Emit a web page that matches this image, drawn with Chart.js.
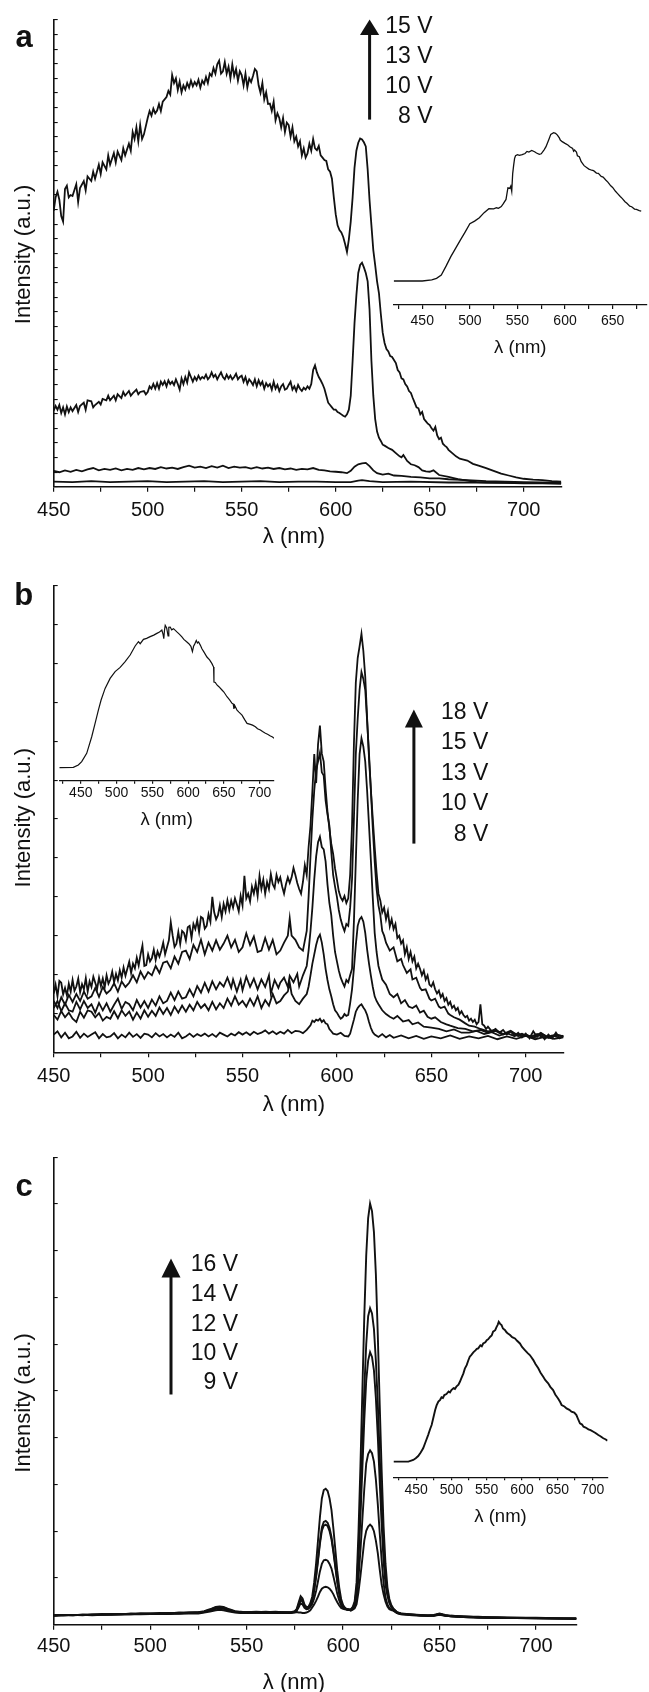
<!DOCTYPE html>
<html><head><meta charset="utf-8">
<script src="https://cdn.jsdelivr.net/npm/chart.js@4.4.1/dist/chart.umd.min.js"></script>
<style>
html,body{margin:0;padding:0;background:#fff;}
body{width:649px;height:1692px;position:relative;overflow:hidden;font-family:"Liberation Sans",Arial,sans-serif;}
canvas{position:absolute;}
svg{position:absolute;left:0;top:0;}
</style></head>
<body>
<canvas id="ca" width="649" height="560" style="left:0;top:0"></canvas>
<canvas id="cb" width="649" height="560" style="left:0;top:560px"></canvas>
<canvas id="cc" width="649" height="575" style="left:0;top:1120px"></canvas>
<canvas id="ia" width="269" height="260" style="left:380px;top:110px"></canvas>
<canvas id="ib" width="250" height="250" style="left:40px;top:595px"></canvas>
<canvas id="ic" width="269" height="250" style="left:380px;top:1290px"></canvas>
<svg width="649" height="1692" id="ov">
 <g font-family="Liberation Sans, Arial, sans-serif" fill="#111">
  <text x="24.2" y="47.3" font-size="31" font-weight="bold" text-anchor="middle">a</text>
  <text x="23.7" y="605" font-size="31" font-weight="bold" text-anchor="middle">b</text>
  <text x="24" y="1196" font-size="31" font-weight="bold" text-anchor="middle">c</text>
  <g font-size="23" text-anchor="end">
   <text x="432.5" y="33.2">15 V</text><text x="432.5" y="63.2">13 V</text><text x="432.5" y="93">10 V</text><text x="432.5" y="122.8">8 V</text>
   <text x="488.4" y="718.9">18 V</text><text x="488.4" y="749.2">15 V</text><text x="488.4" y="779.6">13 V</text><text x="488.4" y="810">10 V</text><text x="488.4" y="841.1">8 V</text>
   <text x="238" y="1271.2">16 V</text><text x="238" y="1300.7">14 V</text><text x="238" y="1330.9">12 V</text><text x="238" y="1360.4">10 V</text><text x="238" y="1389.4">9 V</text>
  </g>
  <g font-size="22" text-anchor="middle" dominant-baseline="central">
   <text x="294" y="535.7">λ (nm)</text>
   <text x="294" y="1103">λ (nm)</text>
   <text x="294" y="1681">λ (nm)</text>
   <text transform="translate(22.8,254.5) rotate(-90)">Intensity (a.u.)</text>
   <text transform="translate(22.8,817.7) rotate(-90)">Intensity (a.u.)</text>
   <text transform="translate(22.8,1403) rotate(-90)">Intensity (a.u.)</text>
  </g>
 </g>
 <g stroke="#111" stroke-width="3" fill="#111">
  <line x1="369.6" y1="119.6" x2="369.6" y2="33"/><polygon stroke="none" points="369.6,19.6 360,35 379.2,35"/>
  <line x1="413.9" y1="843.6" x2="413.9" y2="726"/><polygon stroke="none" points="413.9,709.6 404.9,727.5 422.9,727.5"/>
  <line x1="171" y1="1394.5" x2="171" y2="1276"/><polygon stroke="none" points="171,1258.6 161.5,1277.4 180.5,1277.4"/>
 </g>
</svg>
<script>
// ---------- DATA ----------
const mainXTicks = [450,475,500,525,550,575,600,625,650,675,700];
const insetATicks = [425,450,475,500,525,550,575,600,625,650,675];
const insetBTicks = [425,450,475,500,525,550,575,600,625,650,675,700];
const insetCTicks = [425,450,475,500,525,550,575,600,625,650,675,700];

// Panel a (main), intensity 0-100
const a15 = [[450,59.1],[451,62.0],[452,63.2],[453,61.5],[454,58.0],[455,56.8],[456,63.8],[457,64.5],[458,62.0],[459,62.5],[460,62.3],[462,64.8],[463,61.0],[464,64.0],[466,65.5],[467,63.5],[468,66.5],[470,65.5],[471,67.5],[472,66.0],[474,69.0],[475,67.0],[476,69.5],[478,68.0],[479,71.0],[480,69.0],[482,71.5],[483,69.5],[484,71.8],[486,70.0],[487,72.5],[488,71.0],[490,73.5],[491,72.0],[492,76.0],[493,74.5],[494,77.0],[495,74.0],[496,77.5],[497,74.5],[498,75.5],[500,79.0],[501,80.5],[502,79.5],[503,81.0],[504,80.0],[505,80.6],[506,82.0],[507,80.5],[508,82.5],[510,83.5],[511,84.8],[512,84.0],[513,88.2],[514,86.5],[515,87.5],[516,85.0],[517,86.8],[518,84.5],[519,86.0],[520,85.1],[521,86.5],[522,85.5],[523,87.0],[524,85.8],[525,86.7],[526,86.0],[527,87.2],[528,85.5],[529,87.0],[530,86.3],[531,87.8],[532,86.5],[533,88.5],[534,88.0],[535,89.7],[536,88.5],[537,90.5],[538,91.3],[539,88.5],[540,89.0],[541,91.0],[542,88.5],[543,90.0],[544,87.5],[545,90.5],[546,88.0],[547,89.5],[548,87.0],[549,89.0],[550,88.2],[551,86.0],[552,88.5],[553,85.5],[554,87.5],[555,86.7],[556,88.0],[557,89.5],[558,89.0],[559,86.0],[560,84.4],[561,86.5],[562,83.0],[563,84.5],[564,82.0],[565,82.1],[566,80.5],[567,82.5],[568,78.5],[569,80.0],[570,79.0],[571,77.0],[572,79.0],[573,76.0],[574,78.0],[575,77.5],[576,75.0],[577,77.0],[578,74.0],[579,75.0],[580,72.9],[581,74.0],[582,71.0],[583,72.5],[584,70.5],[585,71.4],[586,73.5],[587,72.0],[588,74.5],[589,72.5],[590,72.1],[591,73.0],[592,71.0],[593,70.5],[594,70.0],[595,69.8],[596,68.0],[597,67.5],[598,66.0],[599,62.0],[600,58.4],[601,56.0],[602,55.0],[603,54.5],[604,53.5],[605,52.0],[606,50.3],[607,53.0],[608,56.8],[609,62.0],[610,68.3],[611,72.0],[612,73.7],[613,74.6],[614,74.4],[615,73.8],[616,72.9],[617,68.0],[618,61.4],[619,56.0],[620,50.7],[621,47.5],[622,44.0],[623,41.5],[624,37.0],[625,33.0],[626,30.8],[627,29.5],[628,29.0],[629,28.0],[630,27.8],[632,26.5],[633,25.0],[634,24.5],[635,23.2],[636,23.0],[637,22.0],[638,21.5],[639,20.5],[640,20.1],[641,19.0],[642,18.0],[643,17.0],[644,16.8],[645,15.5],[646,16.0],[647,14.5],[648,14.0],[649,13.5],[650,13.2],[651,12.5],[652,12.0],[653,12.8],[654,11.0],[655,10.2],[656,10.5],[657,9.2],[658,8.8],[659,8.5],[660,7.9],[662,7.2],[664,6.5],[666,6.0],[668,5.8],[670,5.6],[673,4.9],[676,4.5],[680,4.0],[684,3.4],[688,2.8],[692,2.4],[696,2.0],[700,1.7],[705,1.5],[710,1.4],[715,1.2],[720,1.1]];
const a13 = [[450,16.3],[451,17.3],[452,16.5],[453,17.5],[454,15.8],[455,17.0],[456,15.5],[457,17.2],[458,16.0],[459,17.0],[460,16.2],[462,17.5],[463,16.0],[464,17.3],[466,18.0],[467,16.5],[468,18.5],[470,18.3],[471,17.0],[472,17.5],[474,18.2],[475,17.6],[476,18.8],[478,18.5],[479,19.5],[480,18.5],[482,19.5],[483,18.5],[484,19.8],[486,19.0],[487,20.3],[488,19.5],[490,20.5],[491,19.5],[492,20.0],[494,20.8],[495,19.8],[496,20.3],[498,20.5],[499,19.8],[500,20.3],[501,21.5],[502,21.0],[503,22.0],[504,21.0],[505,22.2],[506,21.0],[507,22.5],[508,21.8],[509,22.6],[510,21.5],[511,22.8],[512,22.0],[513,22.5],[514,21.8],[515,23.0],[516,22.0],[517,20.8],[518,23.2],[519,22.0],[520,23.5],[521,22.3],[522,24.5],[523,23.5],[524,22.5],[525,23.5],[526,22.8],[527,23.8],[528,23.0],[529,23.5],[530,23.2],[531,24.0],[532,23.0],[533,23.5],[534,24.5],[535,23.5],[536,24.0],[537,23.0],[538,23.8],[539,24.5],[540,23.5],[541,23.0],[542,24.0],[543,23.2],[544,23.8],[545,23.0],[546,23.5],[547,24.2],[548,23.0],[549,23.5],[550,23.8],[551,22.5],[552,23.5],[553,22.0],[554,23.0],[555,22.5],[556,21.8],[557,23.0],[558,21.5],[559,22.8],[560,21.8],[561,22.5],[562,21.0],[563,22.2],[564,21.5],[565,22.0],[566,20.8],[567,22.5],[568,21.0],[569,21.8],[570,20.5],[571,21.5],[572,22.0],[573,20.8],[574,21.0],[575,21.8],[576,22.5],[577,20.8],[578,21.5],[579,20.5],[580,21.8],[581,21.0],[582,20.5],[583,21.2],[584,20.8],[585,21.5],[586,21.0],[587,22.0],[588,25.0],[589,26.0],[590,24.5],[591,23.5],[592,22.8],[593,22.0],[594,21.0],[595,19.5],[596,18.0],[597,17.5],[598,17.0],[599,16.5],[600,16.5],[601,16.0],[602,15.8],[603,15.5],[604,15.2],[605,15.0],[606,15.5],[607,16.5],[608,19.5],[609,27.0],[610,35.0],[611,41.0],[612,45.8],[613,47.5],[614,48.0],[615,47.0],[616,45.8],[617,44.0],[618,38.0],[619,27.0],[620,19.5],[621,14.5],[622,11.8],[623,10.5],[624,9.8],[625,9.0],[626,8.8],[628,8.3],[630,7.9],[632,7.2],[634,6.5],[635,6.3],[636,6.8],[638,5.5],[640,4.8],[642,4.6],[644,4.2],[646,3.5],[648,3.3],[650,3.2],[652,3.5],[655,2.5],[660,2.1],[665,1.6],[670,1.3],[675,1.0],[680,0.9],[690,0.8],[700,0.7],[710,0.7],[720,0.6]];
const a10 = [[450,3.4],[453,3.1],[456,3.5],[459,3.2],[462,3.6],[465,3.3],[468,3.7],[471,4.0],[474,3.5],[477,3.8],[480,3.6],[483,3.9],[486,3.5],[489,3.8],[492,3.6],[495,4.0],[498,3.7],[501,4.0],[504,3.8],[507,4.2],[510,3.9],[513,4.1],[516,3.8],[519,4.2],[522,4.5],[525,4.1],[528,4.3],[531,4.0],[534,4.4],[537,4.1],[540,4.5],[543,4.0],[546,4.3],[549,4.1],[552,4.2],[555,3.9],[558,4.2],[561,3.9],[564,4.1],[567,3.8],[570,4.0],[573,3.7],[576,3.9],[579,3.6],[582,3.8],[585,3.7],[588,4.0],[591,3.6],[594,3.5],[597,3.3],[600,3.2],[603,3.1],[606,2.9],[608,3.4],[610,4.3],[612,4.8],[614,5.0],[616,5.1],[618,4.4],[620,3.5],[622,2.9],[625,2.6],[628,2.8],[631,2.4],[635,2.3],[640,2.1],[645,2.0],[650,1.8],[655,1.8],[660,1.6],[670,1.4],[680,1.2],[690,1.1],[700,1.0],[710,0.9],[720,0.8]];
const a8 = [[450,1.1],[460,1.0],[470,1.2],[480,1.0],[490,1.1],[500,1.2],[510,1.0],[520,1.1],[530,1.2],[540,1.0],[550,1.1],[560,1.2],[570,1.0],[580,1.1],[590,1.1],[600,1.0],[608,1.0],[612,1.3],[614,1.4],[618,1.2],[625,1.0],[640,1.1],[660,0.9],[680,0.9],[700,0.8],[720,0.8]];
const aInset = [[420,0],[450,0],[460,0.7],[465,1.8],[470,4.0],[475,10],[480,16.4],[485,22],[490,27.6],[495,33],[500,38.6],[505,40.4],[510,42.7],[515,46.1],[520,48.8],[525,48.6],[528,49.4],[530,49.0],[533,50.2],[535,52.0],[538,55],[540,62.9],[542,62.5],[543,64.0],[544,60.5],[545,72.4],[546,78],[547,82.7],[548,84.5],[550,85.2],[552,84.7],[555,85.2],[558,86.0],[560,87.4],[562,87.0],[565,88.1],[568,87.2],[570,86.3],[573,85.4],[575,85.8],[578,88.5],[580,90.6],[583,95.5],[585,98.9],[588,100],[590,99.6],[592,98.4],[594,96.5],[595,95.1],[597,94.0],[600,92.8],[603,91.7],[605,90.6],[608,89.4],[609,87.5],[610,88.3],[612,87.0],[613,84.5],[615,83.8],[617,80.5],[620,77.8],[623,76.4],[625,75.5],[628,74.7],[630,74.4],[633,72.8],[635,72.6],[638,70.5],[640,70.1],[643,68.0],[645,66.7],[648,64.2],[650,63.1],[653,60.5],[655,59.1],[658,57.0],[660,55.7],[663,53.5],[665,52.4],[668,50.5],[670,50.1],[673,48.5],[675,48.3],[678,47.5],[680,47.2]];

// Panel b (main), intensity 0-100
const b18 = [[450,12.6],[451,14.5],[452,12.0],[453,15.3],[454,14.9],[455,12.4],[456,13.8],[457,12.2],[458,14.7],[459,13.0],[460,15.5],[461,13.2],[462,14.1],[463,15.8],[464,12.9],[465,14.6],[466,13.5],[467,15.9],[468,13.0],[469,15.2],[470,14.0],[471,16.2],[472,14.9],[473,13.6],[474,16.0],[475,14.2],[476,15.8],[477,13.9],[478,16.5],[479,14.7],[480,15.6],[481,17.3],[482,15.0],[483,16.8],[484,15.4],[485,17.6],[486,16.0],[487,18.2],[488,16.4],[489,17.9],[490,19.4],[491,17.0],[492,19.0],[493,18.0],[494,20.3],[495,18.6],[496,21.0],[497,22.9],[498,18.5],[499,18.7],[500,21.0],[501,19.5],[502,20.2],[503,22.0],[504,19.8],[505,21.6],[506,20.5],[507,21.8],[508,23.5],[509,21.0],[510,22.5],[511,24.0],[512,27.9],[513,25.0],[514,22.6],[515,23.3],[516,25.8],[517,23.2],[518,26.0],[519,25.6],[520,24.0],[521,26.8],[522,27.1],[523,24.5],[524,27.5],[525,26.4],[526,28.3],[527,25.8],[528,29.0],[529,28.7],[530,26.5],[531,27.1],[532,29.6],[533,28.0],[534,33.3],[535,30.0],[536,28.5],[537,29.4],[538,31.5],[539,29.0],[540,31.8],[541,30.2],[542,32.6],[543,30.5],[544,32.5],[545,31.0],[546,33.0],[547,31.7],[548,30.2],[549,33.5],[550,31.5],[551,37.8],[552,33.0],[553,34.0],[554,32.3],[555,35.5],[556,34.0],[557,36.2],[558,33.5],[559,37.8],[560,35.0],[561,37.0],[562,34.0],[563,36.5],[564,35.0],[565,38.2],[566,36.0],[567,35.2],[568,38.0],[569,36.5],[570,37.5],[571,35.5],[572,34.0],[573,36.0],[574,37.5],[575,36.3],[576,37.5],[577,39.5],[578,38.0],[579,36.3],[580,35.0],[581,34.0],[582,36.5],[583,40.1],[584,38.0],[585,44.0],[586,48.6],[587,56.0],[588,63.9],[589,57.7],[590,66.0],[591,70.0],[592,64.0],[593,62.3],[594,56.5],[595,51.6],[596,48.0],[597,44.7],[598,42.5],[599,39.4],[600,37.0],[601,34.5],[602,33.2],[603,32.5],[604,33.5],[605,32.0],[606,33.0],[607,38.0],[608,48.6],[609,66.0],[610,79.2],[611,84.5],[612,87.0],[613,89.7],[614,86.0],[615,80.5],[616,71.5],[617,63.0],[618,56.2],[619,50.0],[620,44.0],[621,38.5],[622,34.0],[623,32.5],[624,30.0],[625,31.0],[626,28.5],[627,30.2],[628,27.0],[629,28.5],[630,26.4],[631,27.5],[632,24.5],[633,25.0],[634,23.3],[635,24.0],[636,21.0],[637,22.5],[638,20.0],[639,21.5],[640,19.5],[641,20.5],[642,18.0],[643,19.0],[644,17.9],[645,16.5],[646,17.5],[647,15.6],[648,16.5],[649,14.5],[650,14.1],[651,15.0],[652,13.5],[653,12.6],[654,13.2],[655,11.8],[656,12.5],[657,11.0],[658,11.6],[659,10.2],[660,10.8],[661,9.5],[662,10.0],[663,9.0],[664,9.5],[665,8.2],[666,8.8],[667,8.0],[668,7.5],[669,7.8],[670,6.8],[671,7.2],[672,6.5],[673,7.0],[674,6.0],[675,6.5],[676,10.3],[677,6.0],[678,5.7],[679,5.0],[680,5.5],[682,4.5],[684,5.0],[686,4.2],[688,4.8],[690,3.8],[692,4.5],[694,3.5],[696,4.2],[698,3.2],[700,4.0],[702,3.0],[704,4.5],[706,3.3],[708,4.0],[710,2.8],[712,3.8],[714,3.0],[716,4.2],[718,3.0],[720,3.6]];
const b15 = [[450,11.0],[452,9.5],[454,11.8],[456,10.2],[458,12.3],[460,10.8],[462,12.5],[464,11.0],[466,13.0],[468,11.5],[470,12.0],[472,13.8],[474,11.9],[476,14.0],[478,12.6],[480,13.3],[482,14.8],[484,13.0],[486,15.2],[488,14.0],[490,14.9],[492,16.5],[494,15.0],[496,17.3],[498,15.8],[500,17.2],[502,16.5],[504,18.5],[506,17.0],[508,19.2],[510,19.5],[512,18.0],[514,20.5],[516,19.0],[518,21.5],[520,21.8],[522,20.0],[524,23.0],[526,21.5],[528,24.1],[530,21.0],[532,23.5],[534,21.8],[536,24.0],[538,22.0],[540,23.3],[542,25.0],[544,22.5],[546,24.1],[548,21.5],[550,22.5],[552,25.5],[554,23.0],[556,24.8],[558,21.5],[560,21.8],[562,24.5],[564,22.0],[566,24.1],[568,21.0],[570,21.8],[572,23.5],[574,25.0],[575,28.7],[576,25.0],[578,24.1],[580,22.5],[582,21.8],[584,26.0],[585,33.3],[586,42.0],[587,50.0],[588,56.2],[589,60.5],[590,62.3],[591,64.2],[592,60.0],[593,59.3],[594,54.0],[595,51.0],[596,48.6],[597,43.0],[598,38.0],[599,35.5],[600,33.3],[601,30.5],[602,28.5],[603,27.1],[604,26.0],[605,27.5],[606,27.1],[607,31.0],[608,37.1],[609,50.0],[610,63.9],[611,71.5],[612,77.7],[613,81.5],[614,80.0],[615,77.7],[616,71.0],[617,63.9],[618,56.0],[619,48.0],[620,40.9],[621,35.0],[622,31.5],[623,29.4],[624,26.0],[625,25.0],[626,23.5],[628,21.8],[630,22.5],[632,19.5],[634,20.0],[635,18.7],[637,17.0],[639,17.8],[640,15.6],[642,16.0],[644,13.8],[645,13.3],[647,13.5],[649,11.5],[650,11.1],[652,11.5],[654,9.8],[655,9.5],[657,9.8],[659,8.3],[660,8.0],[662,7.5],[665,7.0],[668,6.2],[670,5.7],[673,5.5],[676,5.0],[680,4.5],[684,4.8],[688,3.9],[692,4.6],[696,3.6],[700,3.8],[704,3.2],[708,4.2],[712,3.1],[716,3.8],[720,3.4]];
const b13 = [[450,9.5],[452,11.0],[454,8.8],[456,10.5],[458,9.0],[460,8.7],[462,10.8],[464,9.2],[466,11.0],[468,9.5],[470,10.3],[472,8.5],[474,10.6],[476,9.0],[478,10.5],[480,8.7],[482,10.2],[484,11.5],[486,9.3],[488,10.8],[490,10.3],[492,9.0],[494,11.2],[496,9.6],[498,11.0],[500,9.5],[502,11.3],[504,10.0],[506,12.0],[508,10.5],[510,11.0],[512,12.8],[514,11.2],[516,13.0],[518,11.5],[520,11.8],[522,13.5],[524,12.0],[526,14.2],[528,12.8],[530,14.9],[532,13.0],[534,15.2],[536,13.5],[538,15.0],[540,14.1],[542,16.0],[544,13.8],[545,15.6],[547,13.0],[549,15.5],[550,13.3],[552,16.2],[554,14.0],[556,15.8],[558,13.5],[560,15.6],[562,14.0],[564,16.5],[565,12.6],[567,15.5],[569,13.8],[570,14.9],[572,16.0],[574,14.0],[575,16.4],[577,15.0],[579,16.8],[580,14.1],[582,16.5],[584,18.5],[585,21.8],[586,26.0],[587,31.0],[588,37.1],[589,42.0],[590,45.0],[591,46.2],[592,44.0],[593,43.5],[594,40.9],[595,36.0],[596,32.0],[597,29.4],[598,25.0],[599,21.5],[600,19.5],[601,17.5],[602,16.0],[603,15.0],[604,14.1],[605,15.5],[606,15.0],[607,16.5],[608,17.9],[609,28.0],[610,40.9],[611,54.0],[612,63.9],[613,67.3],[614,65.5],[615,62.3],[616,56.0],[617,48.6],[618,41.0],[619,33.0],[620,25.6],[621,21.5],[622,18.5],[623,17.0],[624,15.6],[626,14.5],[628,12.5],[630,11.8],[632,12.5],[634,10.5],[636,11.2],[638,9.8],[640,9.5],[642,10.0],[644,8.5],[646,8.9],[648,7.6],[650,7.2],[652,7.5],[655,6.5],[658,6.0],[660,5.7],[664,5.2],[668,5.0],[672,4.5],[676,4.8],[680,4.2],[684,4.6],[688,3.8],[692,4.4],[696,3.5],[700,3.8],[704,3.0],[708,4.0],[712,3.2],[716,3.7],[720,3.4]];
const b10 = [[450,8.0],[452,7.0],[454,8.8],[456,7.5],[458,8.5],[460,7.2],[462,6.5],[464,8.7],[466,7.4],[468,9.0],[470,8.7],[472,7.5],[474,8.4],[476,6.8],[478,7.6],[480,7.2],[482,8.8],[484,7.3],[486,9.0],[488,7.8],[490,8.7],[492,7.0],[494,8.5],[496,7.2],[498,9.0],[500,7.6],[502,8.9],[504,7.8],[506,9.6],[508,8.2],[510,9.5],[512,8.0],[514,9.8],[516,8.5],[518,10.0],[520,8.7],[522,10.2],[524,9.0],[526,10.8],[528,9.5],[530,10.3],[532,9.0],[534,10.8],[536,9.2],[538,10.5],[540,9.5],[542,11.5],[544,10.0],[546,12.0],[548,10.2],[550,11.0],[552,9.8],[554,11.5],[556,10.0],[558,12.0],[560,9.5],[562,11.2],[564,10.0],[566,12.5],[568,10.5],[570,11.0],[572,12.2],[574,13.0],[575,14.9],[576,12.5],[578,11.0],[580,10.3],[582,11.5],[584,12.5],[585,14.1],[586,16.5],[587,19.0],[588,21.0],[589,23.0],[590,24.5],[591,25.2],[592,23.5],[593,21.0],[594,17.9],[595,15.5],[596,13.5],[597,12.0],[598,10.3],[599,9.0],[600,8.5],[601,7.8],[602,7.2],[603,7.5],[604,8.2],[605,7.8],[606,8.0],[607,10.5],[608,13.5],[609,17.9],[610,23.0],[611,27.1],[612,28.5],[613,29.0],[614,28.0],[615,25.6],[616,22.0],[617,19.0],[618,16.4],[619,14.0],[620,12.0],[621,11.0],[622,10.3],[624,9.0],[626,8.2],[628,7.6],[630,7.2],[632,7.8],[635,6.6],[638,6.9],[640,6.0],[643,6.4],[646,5.5],[650,5.3],[654,5.0],[658,4.5],[662,4.9],[666,4.2],[670,4.2],[674,4.6],[678,3.9],[682,4.3],[686,3.6],[690,4.1],[694,3.5],[698,4.0],[702,3.2],[706,3.9],[710,3.0],[714,3.6],[718,3.1],[720,3.4]];
const b8 = [[450,3.8],[452,4.5],[454,3.2],[456,4.2],[458,3.0],[460,3.4],[462,4.4],[464,3.1],[466,4.0],[468,3.3],[470,3.8],[472,4.3],[474,3.0],[476,3.9],[478,3.2],[480,3.4],[482,4.1],[484,3.0],[486,3.8],[488,3.2],[490,4.2],[492,3.3],[494,3.9],[496,3.1],[498,4.0],[500,3.8],[502,3.2],[504,4.1],[506,3.4],[508,3.9],[510,3.2],[512,3.8],[514,3.3],[516,4.2],[518,3.0],[520,3.4],[522,4.0],[524,3.3],[526,3.9],[528,3.5],[530,4.0],[532,3.4],[534,3.9],[536,3.3],[538,4.2],[540,3.8],[542,3.4],[544,4.0],[546,3.6],[548,4.3],[550,3.8],[552,4.3],[554,3.7],[556,4.4],[558,3.9],[560,4.2],[562,4.7],[564,4.0],[566,4.5],[568,3.9],[570,4.4],[572,4.0],[574,4.8],[576,4.1],[578,4.6],[580,4.5],[582,4.1],[584,4.8],[586,5.8],[587,6.8],[588,6.5],[589,7.0],[590,6.8],[591,7.2],[592,6.5],[593,6.9],[594,6.2],[595,6.0],[596,5.0],[597,4.5],[598,4.0],[600,3.8],[602,4.2],[604,3.5],[606,3.4],[607,4.0],[608,5.5],[609,7.0],[610,8.7],[611,9.5],[612,10.0],[613,10.3],[614,9.6],[615,9.0],[616,8.0],[617,6.5],[618,5.2],[619,4.3],[620,3.8],[622,3.3],[624,3.9],[626,3.2],[628,3.7],[630,3.1],[634,3.6],[638,3.0],[642,3.5],[646,2.9],[650,3.4],[655,3.0],[660,3.6],[665,2.9],[670,3.4],[675,3.0],[680,3.5],[685,2.8],[690,3.4],[695,2.9],[700,3.5],[705,2.8],[710,3.3],[715,2.9],[720,3.2]];
const bInset = [[420,0],[439.6,0.2],[446.6,1.9],[451.3,4.2],[458.3,10],[465.3,21.6],[470,30.9],[474.6,40.2],[478.4,47.2],[484,55.3],[491,62.3],[498,67],[505,70],[512,74],[519,78.6],[526,84.9],[530.6,87.9],[533,86.5],[537.6,89.5],[542,90.2],[547,91.4],[552,92.5],[556.3,93.7],[560,94.6],[563.3,96],[565,93],[566,90],[567,96],[568,99.3],[570,97.5],[572,92],[573,98],[575,98.1],[577,96.2],[579.6,97],[584.3,94.7],[588,93],[591.3,91.2],[594,89.5],[598.3,87.7],[601,86.5],[603.9,84.7],[606,81],[607.6,84.7],[609,86],[611.4,88.8],[613,87],[614.6,87.7],[617,85.5],[619.3,83],[622,80.8],[626.3,77.2],[630,75.2],[633.3,72.6],[635.6,70.2],[636.1,59.8],[638,59.5],[640.3,57.7],[643,56.5],[647.3,54.2],[650,52.8],[654.3,49.5],[658,47.3],[661.3,44.9],[663,44.5],[664,41],[665,43.5],[668.3,40.2],[671,38.8],[675.3,36.7],[679,33.5],[682.3,30.9],[687,30.2],[690,29.7],[694,28.6],[697,27.2],[701,26.3],[704,25.2],[708,24],[711,23.3],[715,22.1],[718,21.4],[720,20.5]];

// Panel c (main), intensity 0-100, shared wavelengths
const cX = [450,455,460,465,470,475,480,485,490,495,500,505,510,515,520,525,528,531,534,536,538,541,544,547,550,555,560,565,570,573,575,
 576,577,578,579,580,581,582,583,584,585,586,587,588,589,590,591,592,593,594,595,596,597,598,599,600,601,602,603,604,605,606,607,608,609,610,611,612,613,614,615,616,617,618,619,620,621,622,623,624,625,626,
 628,630,633,636,640,644,647,650,653,656,660,665,670,675,680,690,700,710,721];
const c16 = [2.0,2.1,2.0,2.2,2.1,2.3,2.2,2.3,2.3,2.4,2.3,2.5,2.4,2.6,2.5,2.7,2.9,3.3,3.8,3.9,3.8,3.3,2.9,2.7,2.7,2.8,2.7,2.7,2.6,2.7,2.9,
 3.4,4.8,6.1,5.6,4.3,3.8,3.8,4.6,6.0,9.0,13.0,18.0,23.0,27.0,28.8,29.1,28.6,27.0,24.5,20.5,16.0,11.5,8.0,5.5,4.2,3.6,3.3,3.2,3.3,3.8,5.0,9.0,20.0,34.0,50.0,66.0,79.0,87.0,90.1,88.5,84.0,75.0,62.0,47.0,33.0,21.0,13.0,8.0,5.5,4.2,3.5,
 2.7,2.4,2.3,2.2,2.1,2.0,2.1,2.4,2.1,1.9,1.8,1.7,1.7,1.6,1.6,1.5,1.5,1.4,1.4];
const c14 = [2.1,2.0,2.1,2.1,2.2,2.2,2.3,2.2,2.4,2.3,2.4,2.4,2.5,2.5,2.6,2.6,2.8,3.2,3.7,3.8,3.7,3.2,2.8,2.8,2.6,2.7,2.8,2.6,2.7,2.6,2.8,
 3.2,4.4,5.6,5.1,4.0,3.6,3.6,4.2,5.2,7.5,10.4,14.1,17.8,20.8,22.0,22.2,21.8,20.7,18.8,15.9,12.6,9.3,6.7,4.9,4.0,3.5,3.3,3.2,3.2,3.6,4.5,7.5,15.8,26.3,38.3,50.3,60.0,66.0,67.7,66.6,63.3,56.5,47.3,36.0,25.5,16.5,10.5,6.8,4.9,3.9,3.4,
 2.6,2.4,2.2,2.2,2.0,2.0,2.0,2.3,2.0,1.9,1.8,1.7,1.6,1.6,1.5,1.5,1.4,1.4,1.3];
const c12 = [1.9,2.1,2.1,2.0,2.2,2.1,2.2,2.3,2.2,2.4,2.4,2.3,2.5,2.4,2.6,2.6,2.8,3.1,3.6,3.7,3.6,3.1,2.8,2.6,2.7,2.6,2.7,2.8,2.6,2.7,2.8,
 3.1,4.2,5.3,4.9,3.9,3.5,3.6,4.1,5.1,7.3,10.1,13.6,17.3,20.1,21.2,21.4,21.1,20.0,18.2,15.4,12.2,9.1,6.6,4.8,3.9,3.5,3.3,3.2,3.2,3.5,4.3,6.9,14.0,23.1,33.4,43.8,52.2,56.5,58.3,57.3,54.4,48.5,40.2,30.5,21.4,13.6,8.5,6.2,4.6,3.8,3.3,
 2.6,2.3,2.2,2.1,2.0,1.9,2.0,2.3,2.0,1.8,1.7,1.7,1.6,1.5,1.5,1.4,1.4,1.3,1.3];
const c10 = [2.0,2.0,2.1,2.1,2.1,2.2,2.2,2.2,2.3,2.3,2.3,2.4,2.4,2.4,2.5,2.5,2.7,3.0,3.4,3.5,3.4,3.0,2.7,2.6,2.6,2.6,2.6,2.6,2.6,2.6,2.7,
 3.0,3.7,4.6,4.3,3.6,3.3,3.4,3.8,4.4,5.6,7.2,9.3,11.4,13.0,13.8,13.9,13.7,13.0,12.0,10.3,8.5,6.6,5.2,4.1,3.6,3.4,3.3,3.2,3.1,3.3,3.8,5.5,10.0,15.8,22.5,29.1,34.5,36.5,37.3,36.7,34.9,31.1,25.8,19.6,13.8,8.9,5.8,4.3,3.6,3.3,3.1,
 2.5,2.3,2.2,2.1,2.0,1.9,1.9,2.2,1.9,1.8,1.7,1.6,1.6,1.5,1.5,1.4,1.4,1.3,1.3];
const c9 = [1.9,2.0,2.0,2.1,2.0,2.1,2.1,2.2,2.2,2.2,2.3,2.3,2.3,2.4,2.4,2.4,2.6,2.8,3.1,3.2,3.1,2.8,2.6,2.5,2.5,2.5,2.5,2.5,2.5,2.5,2.6,
 2.7,2.6,2.6,2.5,2.5,2.6,2.8,3.1,3.7,4.3,5.1,6.0,7.0,7.7,8.0,8.1,8.0,7.7,7.2,6.5,5.6,4.8,4.1,3.6,3.4,3.3,3.2,3.2,3.0,3.2,3.5,4.4,7.0,10.4,14.2,18.0,20.1,21.0,21.4,21.0,20.0,18.0,15.3,11.8,8.6,6.5,4.9,3.9,3.3,3.1,3.0,
 2.5,2.2,2.1,2.0,1.9,1.9,1.9,2.1,1.9,1.8,1.7,1.6,1.5,1.5,1.4,1.4,1.3,1.3,1.2];
const cInset = [[418,0],[439,0],[446,1.2],[449.5,2.4],[453,4.0],[456.5,6.5],[460,9.5],[463.5,14.2],[467,19],[470,23.5],[472,26.2],[474.5,31.5],[477,36.9],[479,40.2],[481.5,42.9],[484,44.2],[486,46],[488,45.5],[490,47.6],[493,48.3],[496,50.2],[498,49.5],[500,51.2],[503,52.6],[505,52.0],[507,53.6],[510,55.0],[512,57.1],[514,59.6],[517,63.1],[519,66.5],[521.6,69],[524,72.5],[526,75],[528,76.2],[531,78.1],[534,79.5],[536,80.6],[538,81],[541,83.2],[543,82.5],[545,84.5],[548,85.4],[550,86.9],[552,87.5],[555,89.3],[557,90.2],[559,92.9],[562,94.0],[564,96.4],[565.5,97.8],[567,100],[569,98.5],[571,97.6],[573,95.2],[576,94],[578,92.5],[580,91.6],[583,90.5],[586,89.0],[590,88.1],[593,86.4],[597,84.5],[600,82.0],[604,79.8],[608,77.6],[611,76.2],[613,74.8],[616,72.6],[619,69.8],[623,66.7],[626,63.8],[630,60.7],[633,58.2],[637,56],[640,53.5],[644,51.2],[647,48.0],[651,45.2],[654,42.6],[656,40.5],[660,39.4],[663,38.1],[667,37.0],[670,35.7],[674,35.0],[677,33.3],[680,29.6],[682,27.4],[685,26.5],[687,25],[690,24.4],[694,23.1],[697,22.5],[701,21.4],[704,20.5],[708,19],[711,18.2],[715,16.7],[718,16.0],[721,15]];

// ---------- CHARTS ----------
const INK = '#111';
const FONT = '"Liberation Sans", Arial, sans-serif';
Chart.defaults.font.family = FONT;
Chart.defaults.color = INK;

function toXY(pairs){ return pairs.map(p => ({x:p[0], y:p[1]})); }
function zipXY(xs, ys){ return xs.map((x,i) => ({x:x, y:ys[i]})); }

function lineDs(data, lw){
  return {data:data, borderColor:INK, borderWidth:lw, pointRadius:0, pointHoverRadius:0, fill:false, tension:0};
}

function makeChart(id, o){
  const el = document.getElementById(id);
  return new Chart(el, {
    type:'line',
    data:{datasets:o.datasets},
    options:{
      responsive:false, animation:false, devicePixelRatio:1, events:[],
      layout:{padding:o.pad},
      plugins:{legend:{display:false}, tooltip:{enabled:false}},
      scales:{
        x:{type:'linear', min:o.xMin, max:o.xMax,
           afterBuildTicks: s => { s.ticks = o.xTicks.map(v => ({value:v})); },
           afterFit: s => { s.height = o.xH; },
           ticks:{font:{size:o.tickSize, family:FONT}, color:INK, padding:o.tickPad, maxRotation:0, minRotation:0, autoSkip:false,
                  callback: v => (v % 50 === 0 ? String(v) : '')},
           grid:{display:true, drawOnChartArea:false, drawTicks:true, tickLength:o.tickLen, color:INK, lineWidth:1.2},
           border:{display:true, color:INK, width:o.axisW},
           title:o.xTitle ? {display:true, text:o.xTitle, font:{size:o.xTitleSize, family:FONT}, color:INK, padding:{top:0,bottom:0}} : {display:false}
        },
        y:o.yHidden ? {type:'linear', min:o.yMin, max:o.yMax, display:false} : {
           type:'linear', min:o.yMin, max:o.yMax,
           afterBuildTicks: s => { s.ticks = o.yTicks.map(v => ({value:v})); },
           afterFit: s => { s.width = o.yW; },
           ticks:{display:false},
           grid:{display:true, drawOnChartArea:false, drawTicks:true, tickLength:-4, color:INK, lineWidth:1.1},
           border:{display:true, color:INK, width:o.axisW}
        }
      }
    }
  });
}

const yTicksA = Array.from({length:33}, (_, i) => i * 100 / 32);
const yTicksB = Array.from({length:13}, (_, i) => i * 100 / 12);
const yTicksC = [0,10,20,30,40,50,60,70,80,90,100];

// Panel a
makeChart('ca', {
  datasets:[a15,a13,a10,a8].map(s => lineDs(toXY(s), 1.8)),
  pad:{left:0, top:20, right:87.7, bottom:11.1},
  xMin:450, xMax:720, xTicks:mainXTicks, xH:62.2, tickSize:20, tickPad:6.3, tickLen:5,
  yMin:0, yMax:100, yTicks:yTicksA, yW:53.7, axisW:1.6
});
// Panel b
makeChart('cb', {
  datasets:[b18,b15,b13,b10,b8].map(s => lineDs(toXY(s), 1.8)),
  pad:{left:0, top:25.7, right:85.5, bottom:3.8},
  xMin:450, xMax:720, xTicks:mainXTicks, xH:63.9, tickSize:20, tickPad:7.4, tickLen:5,
  yMin:0, yMax:100, yTicks:yTicksB, yW:53.7, axisW:1.6
});
// Panel c
makeChart('cc', {
  datasets:[c16,c14,c12,c10,c9].map(s => lineDs(zipXY(cX, s), 1.9)),
  pad:{left:0, top:37.3, right:72.5, bottom:0.4},
  xMin:450, xMax:721, xTicks:mainXTicks, xH:69.9, tickSize:20, tickPad:4.3, tickLen:5,
  yMin:0, yMax:100, yTicks:yTicksC, yW:53.7, axisW:1.6
});
// Insets
makeChart('ia', {
  datasets:[lineDs(toXY(aInset), 1.3)],
  pad:{left:13.7, top:10, right:2.1, bottom:10.9},
  xMin:420, xMax:686, xTicks:insetATicks, xH:54.1, tickSize:14, tickPad:3.6, tickLen:4,
  xTitle:'λ (nm)', xTitleSize:18.5,
  yHidden:true, yMin:-16.2, yMax:108.6, axisW:1.2
});
makeChart('ib', {
  datasets:[lineDs(toXY(bInset), 1.2)],
  pad:{left:19.3, top:15, right:16, bottom:13.5},
  xMin:420, xMax:720, xTicks:insetBTicks, xH:50.8, tickSize:14, tickPad:1.2, tickLen:3,
  xTitle:'λ (nm)', xTitleSize:18.5,
  yHidden:true, yMin:-9.07, yMax:110, axisW:1.2
});
makeChart('ic', {
  datasets:[lineDs(toXY(cInset), 1.9)],
  pad:{left:13.5, top:15, right:41.5, bottom:12.2},
  xMin:418, xMax:721, xTicks:insetCTicks, xH:50.5, tickSize:14, tickPad:1.3, tickLen:3,
  xTitle:'λ (nm)', xTitleSize:18.5,
  yHidden:true, yMin:-11.2, yMax:112, axisW:1.2
});
</script>
</body></html>
